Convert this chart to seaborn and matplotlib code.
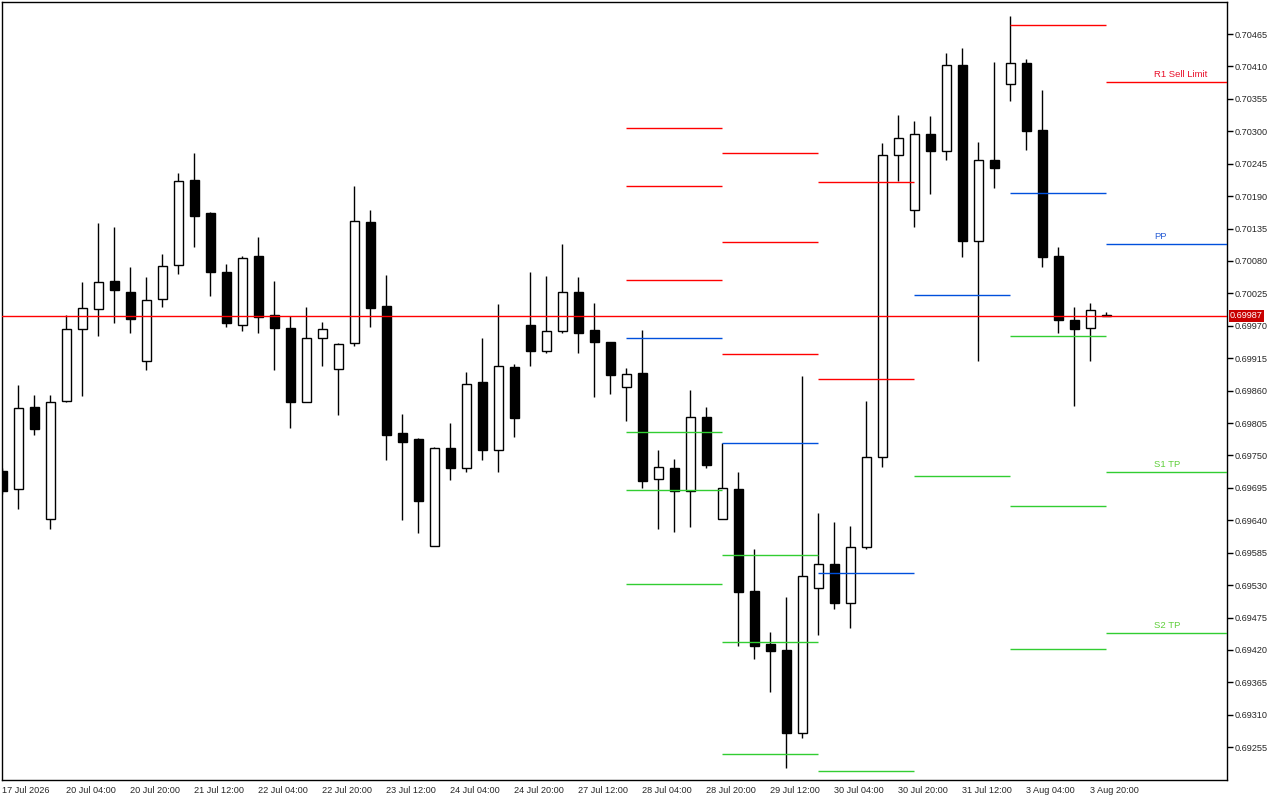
import numpy as np
import pandas as pd
import matplotlib
matplotlib.use("Agg")
import matplotlib.pyplot as plt
import matplotlib.transforms as mtransforms
import seaborn as sns

sns.set_style("white")
plt.rcParams['font.family'] = ['Liberation Sans', 'DejaVu Sans']

# H4 candles
opens = [0.69724, 0.69693, 0.69832, 0.69642, 0.69842, 0.69964, 0.69998, 0.70046, 0.70027, 0.69911,
         0.70015, 0.70073, 0.70217, 0.70161, 0.70061, 0.69971, 0.70088, 0.69988, 0.69967, 0.69841,
         0.69949, 0.69896, 0.69940, 0.70146, 0.70004, 0.69788, 0.69778, 0.69596, 0.69762, 0.69728,
         0.69874, 0.69759, 0.69900, 0.69971, 0.69928, 0.69962, 0.70027, 0.69963, 0.69943, 0.69867,
         0.69890, 0.69710, 0.69728, 0.69689, 0.69815, 0.69642, 0.69693, 0.69520, 0.69430, 0.69420,
         0.69280, 0.69526, 0.69566, 0.69500, 0.69595, 0.69747, 0.70260, 0.70166, 0.70295, 0.70267,
         0.70413, 0.70114, 0.70251, 0.70381, 0.70415, 0.70302, 0.70088, 0.69979, 0.69966, 0.69988]
highs = [0.69729, 0.69870, 0.69853, 0.69853, 0.69988, 0.70044, 0.70144, 0.70137, 0.70070, 0.70053,
         0.70092, 0.70229, 0.70263, 0.70163, 0.70075, 0.70088, 0.70121, 0.70046, 0.69987, 0.70002,
         0.69976, 0.69941, 0.70207, 0.70166, 0.70056, 0.69820, 0.69780, 0.69764, 0.69805, 0.69891,
         0.69949, 0.70007, 0.69905, 0.70061, 0.70054, 0.70109, 0.70053, 0.70009, 0.69943, 0.69898,
         0.69963, 0.69759, 0.69744, 0.69861, 0.69832, 0.69771, 0.69722, 0.69591, 0.69451, 0.69510,
         0.69885, 0.69652, 0.69637, 0.69631, 0.69842, 0.70280, 0.70327, 0.70317, 0.70326, 0.70432,
         0.70441, 0.70282, 0.70417, 0.70496, 0.70422, 0.70370, 0.70104, 0.70002, 0.70009, 0.69993]
lows = [0.69685, 0.69660, 0.69785, 0.69625, 0.69840, 0.69851, 0.69953, 0.69975, 0.69958, 0.69895,
        0.70002, 0.70058, 0.70104, 0.70021, 0.69968, 0.69962, 0.69958, 0.69895, 0.69797, 0.69840,
        0.69902, 0.69819, 0.69936, 0.69968, 0.69743, 0.69641, 0.69619, 0.69596, 0.69709, 0.69722,
        0.69743, 0.69722, 0.69782, 0.69901, 0.69923, 0.69957, 0.69923, 0.69850, 0.69855, 0.69809,
        0.69695, 0.69626, 0.69621, 0.69629, 0.69728, 0.69642, 0.69426, 0.69405, 0.69348, 0.69220,
        0.69270, 0.69446, 0.69490, 0.69458, 0.69591, 0.69730, 0.70215, 0.70138, 0.70193, 0.70252,
        0.70086, 0.69911, 0.70204, 0.70352, 0.70269, 0.70070, 0.69958, 0.69834, 0.69911, 0.69987]
closes = [0.69689, 0.69830, 0.69795, 0.69840, 0.69964, 0.70000, 0.70044, 0.70030, 0.69982, 0.70013,
          0.70071, 0.70215, 0.70157, 0.70062, 0.69974, 0.70085, 0.69985, 0.69967, 0.69841, 0.69949,
          0.69964, 0.69939, 0.70147, 0.70001, 0.69784, 0.69773, 0.69672, 0.69762, 0.69728, 0.69872,
          0.69760, 0.69901, 0.69814, 0.69928, 0.69961, 0.70027, 0.69958, 0.69943, 0.69887, 0.69888,
          0.69707, 0.69730, 0.69689, 0.69816, 0.69733, 0.69694, 0.69518, 0.69427, 0.69419, 0.69280,
          0.69545, 0.69566, 0.69500, 0.69595, 0.69748, 0.70259, 0.70289, 0.70295, 0.70267, 0.70413,
          0.70114, 0.70251, 0.70237, 0.70415, 0.70301, 0.70087, 0.69979, 0.69965, 0.69996, 0.69987]

time_labels = ["17 Jul 2026", "20 Jul 04:00", "20 Jul 20:00", "21 Jul 12:00", "22 Jul 04:00",
               "22 Jul 20:00", "23 Jul 12:00", "24 Jul 04:00", "24 Jul 20:00", "27 Jul 12:00",
               "28 Jul 04:00", "28 Jul 20:00", "29 Jul 12:00", "30 Jul 04:00", "30 Jul 20:00",
               "31 Jul 12:00", "3 Aug 04:00", "3 Aug 20:00"]

# daily pivot levels, one entry per day (bar index where the day starts)
day_start = [39, 45, 51, 57, 63, 69]
res_levels = [[0.70306, 0.70207, 0.70048],
              [0.70263, 0.70112, 0.69922],
              [0.70214, 0.69880],
              [],
              [0.70481],
              [0.70383]]
pp_levels = [0.69949, 0.69772, 0.69550, 0.70022, 0.70196, 0.70108]
sup_levels = [[0.69789, 0.69691, 0.69532],
              [0.69582, 0.69433, 0.69243],
              [0.69215],
              [0.69715],
              [0.69952, 0.69665, 0.69422],
              [0.69722, 0.69448]]
level_names = ["R1 Sell Limit", "PP", "S1 TP", "S2 TP"]
last_price = 0.69987

df = pd.DataFrame({"open": opens, "high": highs, "low": lows, "close": closes})
df["idx"] = np.arange(len(df))
df["up"] = df["close"] >= df["open"]

RED = "#ff0000"
BLUE = "#0050dc"
GREEN = "#32cd32"

fig = plt.figure(figsize=(12.8, 8), dpi=100)
ax = fig.add_axes([2 / 1280, 20.5 / 800, 1225 / 1280, 777.2 / 800])

# candles
ax.vlines(df["idx"], df["low"], df["high"], color="black", lw=1.0, zorder=2)
ax.bar(df["idx"], df["close"] - df["open"], bottom=df["open"], width=0.6,
       color=np.where(df["up"], "white", "black"), edgecolor="black", linewidth=1.0, zorder=3)

xmax = 76.54
# pivot segments
for i, start in enumerate(day_start):
    end = start + 6 if i < len(day_start) - 1 else xmax
    for lv in res_levels[i]:
        ax.hlines(lv, start, end, color=RED, lw=1.0, zorder=4)
    ax.hlines(pp_levels[i], start, end, color=BLUE, lw=1.0, zorder=4)
    for lv in sup_levels[i]:
        ax.hlines(lv, start, end, color=GREEN, lw=1.0, zorder=4)

# labels on the current day's levels
last_levels = [res_levels[-1][0], pp_levels[-1], sup_levels[-1][0], sup_levels[-1][1]]
label_colors = ["#e8102a", "#2a5fd6", "#5fcf3a", "#5fcf3a"]
for name, lv, col in zip(level_names, last_levels, label_colors):
    ax.annotate(name, (72, lv), xytext=(0, 2.5), textcoords="offset points",
                ha="left", va="bottom", fontsize=6.8, color=col)

ax.axhline(last_price, color=RED, lw=1.0, zorder=5)

ax.set_xlim(-0.02, xmax)
ax.set_ylim(0.692003, 0.705188)

yt = np.round(np.arange(0.69255, 0.70466, 0.00055), 5)
ax.yaxis.tick_right()
ax.set_yticks(yt)
ax.set_yticklabels([f"{v:.5f}" for v in yt])
ax.set_xticks(np.arange(0, 70, 4))
ax.set_xticklabels(time_labels, ha="left")
ax.tick_params(axis="both", direction="out", length=4, width=1, color="black",
               labelsize=6.6, pad=1)
ax.tick_params(axis="y", pad=1.5)
for sp in ax.spines.values():
    sp.set_color("black")
    sp.set_linewidth(1.0)
    sp.set_visible(True)
ax.grid(False)

# price tag on the right scale
trans = mtransforms.blended_transform_factory(ax.transAxes, ax.transData)
ax.text(1.0025, last_price, f"{last_price:.5f}", transform=trans, ha="left", va="center",
        fontsize=6.6, color="white", zorder=10, clip_on=False,
        bbox=dict(boxstyle="square,pad=0.15", facecolor="#c80000", edgecolor="none"))

fig.savefig("out.png", dpi=100)
